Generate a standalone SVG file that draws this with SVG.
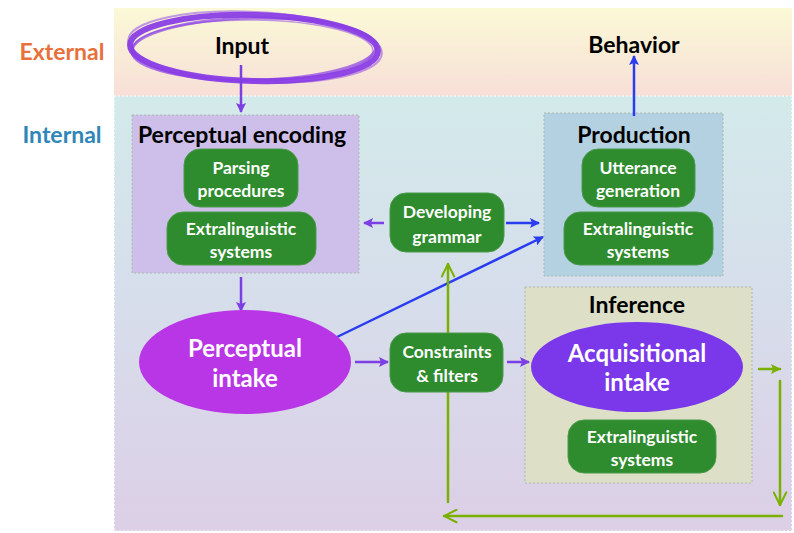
<svg xmlns="http://www.w3.org/2000/svg" width="794" height="533" viewBox="0 0 794 533">
<defs>
<linearGradient id="gExt" x1="0" y1="0" x2="0" y2="1">
<stop offset="0" stop-color="#fbf9d6"/>
<stop offset="1" stop-color="#f7dfd8"/>
</linearGradient>
<linearGradient id="gInt" x1="0" y1="0" x2="0" y2="1">
<stop offset="0" stop-color="#d3eaea"/>
<stop offset="0.45" stop-color="#d6deeb"/>
<stop offset="1" stop-color="#dccfe6"/>
</linearGradient>
<marker id="mPurple" viewBox="0 0 10 10" refX="9" refY="5" markerWidth="4" markerHeight="4" orient="auto-start-reverse" markerUnits="strokeWidth">
<path d="M0,0 L10,5 L0,10 L2,5 z" fill="#7b3fe4"/>
</marker>
<marker id="mBlue" viewBox="0 0 10 10" refX="9" refY="5" markerWidth="4" markerHeight="4" orient="auto-start-reverse" markerUnits="strokeWidth">
<path d="M0,0 L10,5 L0,10 L2,5 z" fill="#2a3cf0"/>
</marker>
<marker id="mGreenF" viewBox="0 0 10 10" refX="9" refY="5" markerWidth="4" markerHeight="4" orient="auto" markerUnits="strokeWidth">
<path d="M0,0 L10,5 L0,10 L2,5 z" fill="#7ab000"/>
</marker>
<marker id="mGreenV" viewBox="0 0 12 12" refX="11" refY="6" markerWidth="6" markerHeight="6" orient="auto" markerUnits="strokeWidth">
<path d="M1,1 L11,6 L1,11" fill="none" stroke="#7ab000" stroke-width="1.6" stroke-linecap="round"/>
</marker>
</defs>
<style>
.lbl{font-family:Lato,"Open Sans","Liberation Sans",sans-serif;font-weight:bold;text-anchor:middle}
.band{font-size:23px}
.title{font-size:23px;fill:#000}
.gbox{fill:#2e8b2e;stroke:#4a9a4a;stroke-width:1}
.gtxt{font-size:17.5px;fill:#fff}
.etxt{font-size:24px;fill:#fff}
.container{stroke:#a9b8b0;stroke-width:1;stroke-dasharray:2 2}
.pl{stroke:#7b3fe4;stroke-width:2.5;fill:none}
.bl{stroke:#2a3cf0;stroke-width:2.5;fill:none}
.gl{stroke:#7ab000;stroke-width:2.5;fill:none;stroke-linecap:round}
</style>

<g id="bands">
<rect x="114" y="8" width="678" height="88" fill="url(#gExt)"/>
<rect x="114" y="96" width="678" height="435" fill="url(#gInt)" stroke="#ffffff" stroke-width="1.2" stroke-dasharray="2 2"/>
<text class="lbl band" x="62" y="60" fill="#e8703a">External</text>
<text class="lbl band" x="62" y="143" fill="#2f86b8">Internal</text>
</g>

<g id="input">
<g fill="none" stroke="#8a3ee6" stroke-linecap="round">
<ellipse cx="254" cy="48" rx="124" ry="33" stroke-width="6" transform="rotate(1.5 254 48)" opacity="0.95"/>
<ellipse cx="254" cy="49" rx="122" ry="31" stroke-width="3" transform="rotate(-1 254 49)" opacity="0.7"/>
<ellipse cx="255" cy="47" rx="127" ry="35" stroke-width="2" transform="rotate(3 255 47)" opacity="0.5"/>
<ellipse cx="253" cy="50" rx="120" ry="30" stroke-width="1.5" transform="rotate(0.5 253 50)" opacity="0.5"/>
</g>
<text class="lbl title" x="242" y="54" font-size="24">Input</text>
</g>

<g id="behavior">
<text class="lbl title" x="634" y="53">Behavior</text>
</g>

<g id="perceptual-encoding">
<rect class="container" x="132" y="115" width="227" height="158" fill="#cdbfe9"/>
<text class="lbl title" x="242" y="143">Perceptual encoding</text>
<g id="parsing-procedures">
<rect class="gbox" x="184" y="149" width="114" height="58" rx="16"/>
<text class="lbl gtxt" x="241" y="174">Parsing</text>
<text class="lbl gtxt" x="241" y="197">procedures</text>
</g>
<g id="pe-extralinguistic">
<rect class="gbox" x="167" y="212" width="149" height="53" rx="16"/>
<text class="lbl gtxt" x="241" y="235">Extralinguistic</text>
<text class="lbl gtxt" x="241" y="258">systems</text>
</g>
</g>

<g id="production">
<rect class="container" x="544" y="113" width="179" height="163" fill="#b4d1e2"/>
<text class="lbl title" x="634" y="143">Production</text>
<g id="utterance-generation">
<rect class="gbox" x="582" y="149" width="113" height="58" rx="16"/>
<text class="lbl gtxt" x="638" y="174">Utterance</text>
<text class="lbl gtxt" x="638" y="197">generation</text>
</g>
<g id="prod-extralinguistic">
<rect class="gbox" x="564" y="212" width="149" height="53" rx="16"/>
<text class="lbl gtxt" x="638" y="235">Extralinguistic</text>
<text class="lbl gtxt" x="638" y="258">systems</text>
</g>
</g>

<g id="inference">
<rect class="container" x="525" y="287" width="227" height="196" fill="#dde0c7"/>
<text class="lbl title" x="637" y="313">Inference</text>
<g id="acquisitional-intake">
<ellipse cx="637" cy="367" rx="106" ry="45" fill="#7b38ea"/>
<text class="lbl etxt" x="637" y="362">Acquisitional</text>
<text class="lbl etxt" x="637" y="391">intake</text>
</g>
<g id="inf-extralinguistic">
<rect class="gbox" x="568" y="420" width="148" height="53" rx="16"/>
<text class="lbl gtxt" x="642" y="443">Extralinguistic</text>
<text class="lbl gtxt" x="642" y="466">systems</text>
</g>
</g>

<g id="connectors">
<line class="pl" x1="241" y1="65" x2="241" y2="112" marker-end="url(#mPurple)"/>
<line class="pl" x1="241" y1="277" x2="241" y2="311" marker-end="url(#mPurple)"/>
<line class="pl" x1="384" y1="223" x2="364" y2="223" marker-end="url(#mPurple)"/>
<line class="bl" x1="506" y1="223" x2="539" y2="223" marker-end="url(#mBlue)"/>
<line class="bl" x1="634" y1="116" x2="634" y2="56" marker-end="url(#mBlue)"/>
<line class="bl" x1="337" y1="337" x2="543" y2="237" marker-end="url(#mBlue)"/>
<line class="pl" x1="355" y1="362" x2="388" y2="362" marker-end="url(#mPurple)"/>
<line class="pl" x1="507" y1="362" x2="529" y2="362" marker-end="url(#mPurple)"/>
<line class="gl" x1="759" y1="369" x2="780" y2="369" marker-end="url(#mGreenF)"/>
<line class="gl" x1="780" y1="381" x2="780" y2="505" marker-end="url(#mGreenV)"/>
<line class="gl" x1="782" y1="516" x2="444" y2="516" marker-end="url(#mGreenV)"/>
<line class="gl" x1="448" y1="502" x2="448" y2="264" marker-end="url(#mGreenV)"/>
</g>

<g id="developing-grammar">
<rect class="gbox" x="390" y="193" width="114" height="59" rx="16"/>
<text class="lbl gtxt" x="447" y="218">Developing</text>
<text class="lbl gtxt" x="447" y="243">grammar</text>
</g>

<g id="perceptual-intake">
<ellipse cx="245" cy="362" rx="106" ry="52" fill="#b936e6"/>
<text class="lbl etxt" x="245" y="357">Perceptual</text>
<text class="lbl etxt" x="245" y="387">intake</text>
</g>

<g id="constraints-filters">
<rect class="gbox" x="390" y="333" width="113" height="59" rx="16"/>
<text class="lbl gtxt" x="447" y="358">Constraints</text>
<text class="lbl gtxt" x="447" y="382">&amp; filters</text>
</g>
</svg>
